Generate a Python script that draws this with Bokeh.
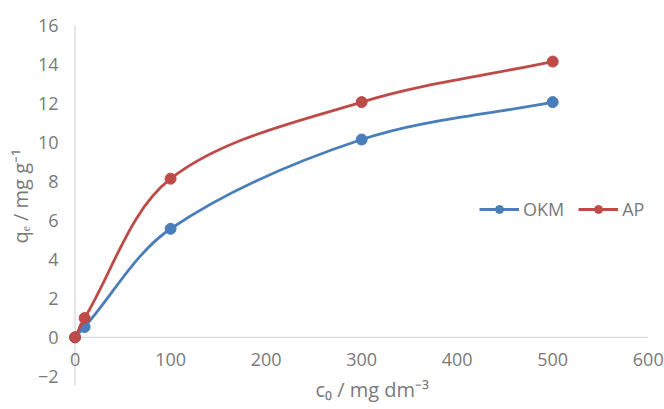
import numpy as np
from bokeh.plotting import figure
from bokeh.models import Range1d, FixedTicker, Legend, LegendItem, Title
from bokeh.core.properties import value
from bokeh.embed import file_html
from bokeh.resources import INLINE

# ---- data ----
c0 = [0, 10, 100, 300, 500]
okm = [0, 0.53, 5.57, 10.15, 12.07]
ap = [0, 0.99, 8.14, 12.07, 14.15]
series_names = ["OKM", "AP"]
series_values = [okm, ap]
series_colors = ["#4A7EBB", "#BE4B48"]
x_ticks = [0, 100, 200, 300, 400, 500, 600]
x_tick_labels = ["0", "100", "200", "300", "400", "500", "600"]
y_ticks = [-2, 0, 2, 4, 6, 8, 10, 12, 14, 16]
y_tick_labels = ["\u22122", "0", "2", "4", "6", "8", "10", "12", "14", "16"]
x_title = "c\u2080 / mg dm\u207b\u00b3"
y_title = "q\u2091 / mg g\u207b\u00b9"

FONT = "Open Sans"
GRAY = "#7a7a7a"
AXIS_GRAY = "#d9d9d9"

X0, X1 = -10, 617
Y0, Y1 = -3.6, 16
FW, FH = 599, 382
SX = FW / (X1 - X0)
SY = FH / (Y1 - Y0)

p = figure(width=664, height=409, output_backend="svg", toolbar_location=None,
           x_range=Range1d(X0, X1), y_range=Range1d(Y0, Y1),
           frame_width=FW, frame_height=FH,
           min_border_left=65, min_border_right=0, min_border_top=25, min_border_bottom=2,
           x_axis_location=None)
p.outline_line_color = None
p.grid.visible = False
p.background_fill_color = "white"
p.border_fill_color = "white"

ya = p.yaxis[0]
ya.ticker = FixedTicker(ticks=y_ticks)
ya.major_label_overrides = {t: l for t, l in zip(y_ticks, y_tick_labels)}
ya.axis_line_color = None
ya.major_tick_line_color = None
ya.minor_tick_line_color = None
ya.major_label_standoff = 1
ya.major_label_text_font = FONT
ya.major_label_text_font_size = "18px"
ya.major_label_text_color = GRAY

# y axis title (side title, starting from the frame bottom + offset, reading upward)
p.add_layout(Title(text=y_title, align="left", offset=164, standoff=2,
                   text_font=FONT, text_font_size="20px", text_font_style="normal",
                   text_color=GRAY), "left")

# axis lines
p.line(x=[x_ticks[0], x_ticks[-1]], y=[0, 0], line_color=AXIS_GRAY, line_width=1.3)
p.line(x=[x_ticks[0], x_ticks[0]], y=[-2.45, y_ticks[-1]], line_color=AXIS_GRAY, line_width=1.3)

# x tick labels placed on the y=0 axis line
p.text(x=x_ticks, y=[0] * len(x_ticks), text=x_tick_labels, y_offset=22,
       text_align="center", text_baseline="middle", text_font=value(FONT),
       text_font_size="18px", text_color=GRAY)
# x axis title
p.text(x=[311], y=[0], text=[x_title], y_offset=52, text_align="center",
       text_baseline="middle", text_font=value(FONT), text_font_size="20px",
       text_color=GRAY)


def smooth_bezier(xs, ys):
    px = np.array(xs, float) * SX
    py = np.array(ys, float) * SY
    n = len(px)
    seg = np.hypot(np.diff(px), np.diff(py))
    x0, y0, x1, y1, cx0, cy0, cx1, cy1 = ([] for _ in range(8))
    for i in range(n - 1):
        ip, inx = max(i - 1, 0), min(i + 2, n - 1)
        Lp = seg[i - 1] if i > 0 else 0.0
        Ln = seg[i + 1] if i + 1 < n - 1 else 0.0
        L = seg[i]
        t0x, t0y = px[i + 1] - px[ip], py[i + 1] - py[ip]
        f0 = L / (Lp + L) / 3
        t1x, t1y = px[inx] - px[i], py[inx] - py[i]
        f1 = L / (L + Ln) / 3
        x0.append(xs[i]); y0.append(ys[i]); x1.append(xs[i + 1]); y1.append(ys[i + 1])
        cx0.append((px[i] + t0x * f0) / SX); cy0.append((py[i] + t0y * f0) / SY)
        cx1.append((px[i + 1] - t1x * f1) / SX); cy1.append((py[i + 1] - t1y * f1) / SY)
    return dict(x0=x0, y0=y0, x1=x1, y1=y1, cx0=cx0, cy0=cy0, cx1=cx1, cy1=cy1)


items = []
for name, vals, col in zip(series_names, series_values, series_colors):
    b = smooth_bezier(c0, vals)
    br = p.bezier(**b, line_color=col, line_width=2.8)
    sr = p.scatter(x=c0, y=vals, size=11, fill_color=col, line_color=col, marker="circle")
    items.append(LegendItem(label=name, renderers=[br, sr]))

leg = Legend(items=items, orientation="horizontal", location=(414, 186),
             border_line_color=None, background_fill_alpha=0,
             label_text_font=FONT, label_text_font_size="18px", label_text_color=GRAY,
             glyph_width=40, glyph_height=20, label_standoff=4, spacing=14,
             padding=0, margin=0)
p.add_layout(leg, "center")

open("out.html", "w").write(file_html(p, INLINE))
